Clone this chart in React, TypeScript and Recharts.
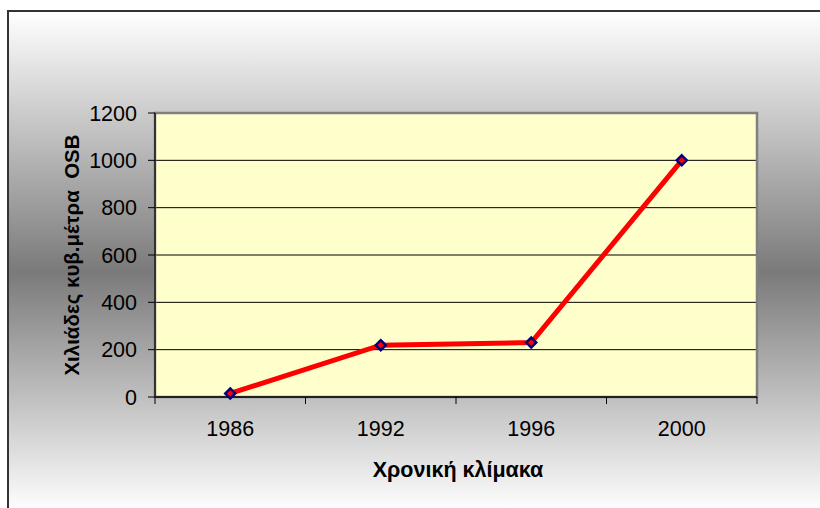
import React from "react";
import { LineChart, Line, XAxis, YAxis, CartesianGrid, ReferenceArea } from "recharts";

const years = ["1986", "1992", "1996", "2000"];
const osbVolume = [15, 219, 230, 1000];
const yTicks = [0, 200, 400, 600, 800, 1000, 1200];
const gridValues = [200, 400, 600, 800, 1000];

const data = years.map((y, i) => ({ year: y, value: osbVolume[i] }));

const W = 820;
const H = 508;
const PLOT_LEFT = 155;
const PLOT_RIGHT = 757;
const PLOT_TOP = 113;
const PLOT_BOTTOM = 397;
const PLOT_W = PLOT_RIGHT - PLOT_LEFT;
const TICK_SIZE = 7;
const X_TICK_MARGIN = 17;
const FONT = "'Liberation Sans', Arial, sans-serif";
const TICK_FONT = 21.5;

const XTick = (props: any) => {
  const { x, y, payload, index } = props;
  const band = PLOT_W / years.length;
  const axisY = y - X_TICK_MARGIN - TICK_SIZE;
  return (
    <g>
      <line x1={x - band / 2} x2={x - band / 2} y1={axisY} y2={axisY + TICK_SIZE} stroke="#000" strokeWidth={1} />
      {index === years.length - 1 && (
        <line x1={x + band / 2} x2={x + band / 2} y1={axisY} y2={axisY + TICK_SIZE} stroke="#000" strokeWidth={1} />
      )}
      <text x={x} y={y} dy="0.71em" textAnchor="middle" fontFamily={FONT} fontSize={TICK_FONT} fill="#000">
        {payload.value}
      </text>
    </g>
  );
};

const Diamond = (props: any) => {
  const { cx, cy } = props;
  if (cx == null || cy == null) return null;
  const r = 5;
  return (
    <path
      d={`M${cx},${cy - r}L${cx + r},${cy}L${cx},${cy + r}L${cx - r},${cy}Z`}
      fill="#FF0000"
      stroke="#000080"
      strokeWidth={2.5}
    />
  );
};

const YLabel = (props: any) => {
  const vb = props.viewBox || { x: 0, y: PLOT_TOP, width: PLOT_LEFT, height: PLOT_BOTTOM - PLOT_TOP };
  const cx = vb.x + 71;
  const cy = vb.y + vb.height / 2;
  return (
    <text
      x={cx}
      y={cy}
      transform={`rotate(-90 ${cx} ${cy})`}
      textAnchor="middle"
      dominantBaseline="central"
      fontFamily={FONT}
      fontWeight="bold"
      fontSize={20.5}
      fill="#000"
      style={{ whiteSpace: "pre" }}
    >
      {"Χιλιάδες κυβ.μέτρα  OSB"}
    </text>
  );
};

const XLabel = (props: any) => {
  const vb = props.viewBox || { x: PLOT_LEFT, y: PLOT_BOTTOM, width: PLOT_W, height: 111 };
  const cx = vb.x + vb.width / 2 + 2;
  return (
    <text
      x={cx}
      y={477}
      textAnchor="middle"
      fontFamily={FONT}
      fontWeight="bold"
      fontSize={21.5}
      fill="#000"
    >
      Χρονική κλίμακα
    </text>
  );
};

export default function App() {
  return (
    <div style={{ position: "absolute", left: 0, top: 0, width: W, height: H, background: "#fff", overflow: "hidden" }}>
      <div
        style={{
          position: "absolute",
          left: 7,
          top: 10,
          width: W - 7 + 4,
          height: H - 10 + 4,
          boxSizing: "border-box",
          borderLeft: "2px solid #333",
          borderTop: "2px solid #333",
          background: "linear-gradient(to bottom, #ffffff 0%, #7a7a7a 52%, #ffffff 100%)",
        }}
      />
      <div style={{ position: "absolute", left: 0, top: 0 }}>
        <LineChart
          width={W}
          height={H}
          data={data}
          margin={{ top: PLOT_TOP, right: W - PLOT_RIGHT, bottom: 0, left: 0 }}
        >
          <CartesianGrid
            vertical={false}
            horizontalValues={gridValues}
            stroke="#000"
            strokeWidth={1}
            fill="#FFFFCC"
            fillOpacity={1}
          />
          <ReferenceArea y1={0} y2={1200} fill="none" stroke="#808080" strokeWidth={2.5} ifOverflow="visible" />
          <XAxis
            dataKey="year"
            type="category"
            scale="band"
            height={H - PLOT_BOTTOM}
            axisLine={{ stroke: "#000", strokeWidth: 1.5 }}
            tickLine={{ stroke: "none" }}
            tickSize={TICK_SIZE}
            tickMargin={X_TICK_MARGIN}
            tick={<XTick />}
            interval={0}
            label={<XLabel />}
          />
          <YAxis
            type="number"
            domain={[0, 1200]}
            ticks={yTicks}
            width={PLOT_LEFT}
            axisLine={{ stroke: "#333", strokeWidth: 2 }}
            tickLine={{ stroke: "#000", strokeWidth: 1 }}
            tickSize={TICK_SIZE}
            tickMargin={11}
            tick={{ fontFamily: FONT, fontSize: TICK_FONT, fill: "#000" }}
            interval={0}
            label={<YLabel />}
          />
          <Line
            type="linear"
            dataKey="value"
            stroke="#FF0000"
            strokeWidth={5}
            dot={<Diamond />}
            activeDot={false}
            isAnimationActive={false}
          />
        </LineChart>
      </div>
    </div>
  );
}
